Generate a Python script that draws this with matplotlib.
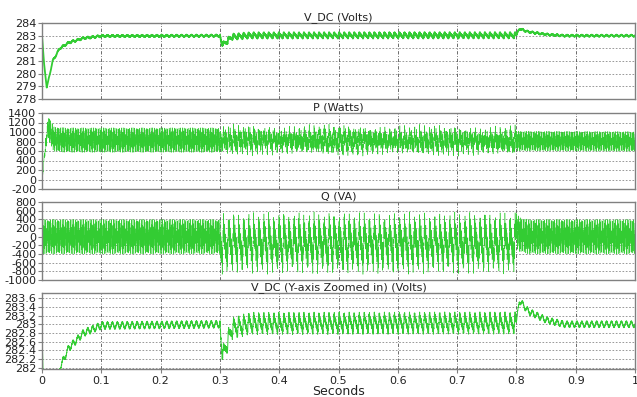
import numpy as np
import matplotlib.pyplot as plt

GREEN = "#33cc33"
TITLES = ["V_DC (Volts)", "P (Watts)", "Q (VA)", "V_DC (Y-axis Zoomed in) (Volts)"]
YLIMS = [(278, 284), (-200, 1400), (-1000, 800), (281.97, 283.72)]
YTICKS = [np.arange(278, 284.1, 1), np.arange(-200, 1401, 200),
          np.arange(-1000, 801, 200), np.arange(282, 283.61, 0.2)]

# segment boundaries (s): start-up, disturbance 0.3-0.8, recovery
SEG = [0.3, 0.8]

# V_DC mean trajectory
VDC_T = [0, 0.003, 0.008, 0.018, 0.03, 0.045, 0.07, 0.1, 0.3, 0.303, 0.306,
         0.32, 0.35, 0.8, 0.805, 0.82, 0.85, 0.88, 1.0]
VDC_V = [283.0, 281.0, 278.9, 281.0, 282.0, 282.45, 282.8, 282.97, 283.0, 282.5,
         282.3, 282.9, 283.02, 283.03, 283.55, 283.3, 283.1, 283.0, 283.0]
VDC_RIP = [0.09, 0.27, 0.08]

# P mean trajectory and ripple
P_T = [0, 0.004, 0.01, 0.02, 0.04, 0.3, 0.8, 1.0]
P_V = [-100, 500, 1100, 850, 830, 830, 810, 800]
P_RIP = [260, 340, 210]

# Q mean trajectory and ripple
Q_T = [0, 0.3, 0.301, 0.799, 0.8, 0.805, 0.82, 1.0]
Q_V = [0, 0, -150, -150, 150, 50, 0, 0]
Q_RIP = [400, 520, 400]

t = np.linspace(0, 1, 40001)


def seg_amp(rip):
    return np.where(t < SEG[0], rip[0], np.where(t < SEG[1], rip[1], rip[2]))


w = 2 * np.pi
mid = (t >= SEG[0]) & (t < SEG[1])
base = 0.75 * np.sin(w * 120 * t) + 0.25 * np.sin(w * 1140 * t + 0.4)
spiky = (0.55 * np.sin(w * 118 * t) + 0.25 * np.sin(w * 236 * t)
         + 0.15 * np.sin(w * 354 * t) + 0.2 * np.sin(w * 1230 * t))
fast = 0.55 * np.sin(w * 360 * t) + 0.45 * np.sin(w * 1740 * t + 1.0)

vdc = np.interp(t, VDC_T, VDC_V) + seg_amp(VDC_RIP) * np.where(mid, spiky, base) * np.clip(t / 0.02, 0, 1)
p = np.interp(t, P_T, P_V) + seg_amp(P_RIP) * np.where(mid, 0.6 * fast + 0.45 * spiky, fast) * np.clip(t / 0.012, 0, 1)
q = np.interp(t, Q_T, Q_V) + seg_amp(Q_RIP) * np.where(mid, 1.1 * spiky + 0.35 * np.sin(w * 1740 * t), fast)

series = [vdc, p, q, vdc]
widths = [1.3, 0.35, 0.35, 0.7]

fig = plt.figure(figsize=(6.37, 3.97), dpi=100)
L, W = 42 / 637, 593 / 637
tops = [23, 113, 202, 293]
bots = [99, 189, 280, 369]
for i in range(4):
    ax = fig.add_axes([L, 1 - bots[i] / 397, W, (bots[i] - tops[i]) / 397])
    ax.plot(t, series[i], color=GREEN, lw=widths[i])
    ax.set_xlim(0, 1)
    ax.set_ylim(*YLIMS[i])
    ax.set_yticks(YTICKS[i])
    ax.set_yticklabels([f"{v:g}" for v in np.round(YTICKS[i], 1)])
    ax.set_xticks(np.arange(0, 1.01, 0.1))
    ax.set_title(TITLES[i], fontsize=8, pad=2, color="#222")
    for y in YTICKS[i]:
        ax.axhline(y, color="#888", lw=0.6, ls=(0, (2, 2)), zorder=0)
    for x in np.arange(0.1, 0.95, 0.1):
        ax.axvline(x, color="#555", lw=0.6, ls=(0, (4, 2, 1, 2)), zorder=0)
    for s in ax.spines.values():
        s.set_color("#808080")
        s.set_linewidth(1)
    ax.tick_params(axis="y", labelsize=8, length=3, width=0.8, color="#808080", pad=1, labelcolor="#222")
    if i < 3:
        ax.tick_params(axis="x", bottom=False, labelbottom=False)
    else:
        ax.set_xticklabels([f"{v:g}" for v in np.round(np.arange(0, 1.01, 0.1), 1)])
        ax.tick_params(axis="x", labelsize=8, length=3, color="#808080", pad=2, labelcolor="#222")
        ax.set_xlabel("Seconds", fontsize=9, labelpad=-1, color="#222")

fig.savefig("out.png", dpi=100, facecolor="white")
